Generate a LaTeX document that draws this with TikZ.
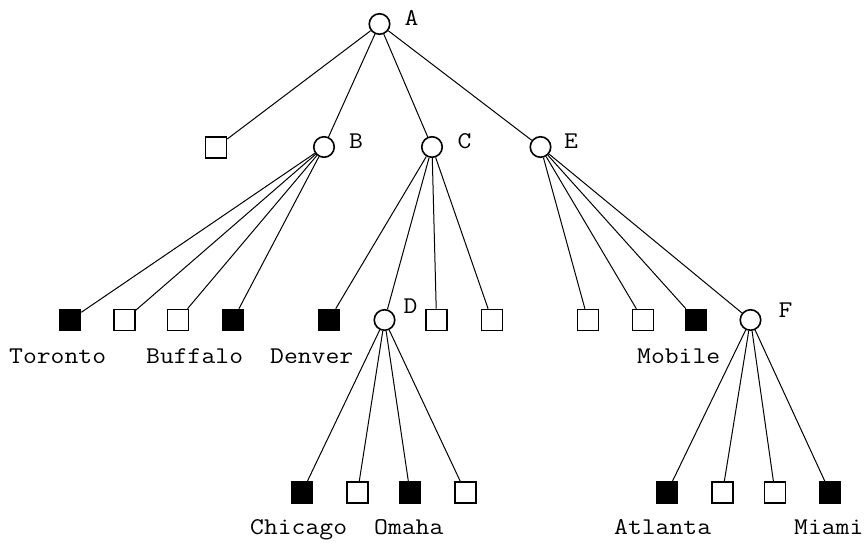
\documentclass[tikz,border=0pt]{standalone}
\usepackage{fontspec}
\setmonofont[FakeStretch=1.12]{Latin Modern Mono}
\begin{document}
\begin{tikzpicture}[x=1pt,y=-1pt,
  inner/.style={circle,draw,line width=1.6pt,minimum size=20.5pt,inner sep=0pt,fill=white},
  leaf/.style={rectangle,draw,line width=1.6pt,minimum size=21pt,inner sep=0pt,fill=white},
  hit/.style={leaf,fill=black},
  tag/.style={font=\ttfamily\fontsize{24}{28}\selectfont,inner sep=0pt,anchor=base},
  city/.style={font=\ttfamily\fontsize{24}{28}\selectfont,inner sep=0pt,anchor=base west},
  edge/.style={line width=1pt}]
\useasboundingbox (0,0) rectangle (867,542);

% internal nodes
\node[inner] (A) at (379.5,24) {};
\node[inner] (B) at (324,147) {};
\node[inner] (C) at (432,147) {};
\node[inner] (E) at (540.5,147) {};
\node[inner] (D) at (384.5,320) {};
\node[inner] (F) at (750.5,320) {};

% leaves, level 1
\node[leaf] (a1) at (216,147.5) {};

% leaves, level 2
\node[hit]  (b1) at (70,320) {};
\node[leaf] (b2) at (124.5,320) {};
\node[leaf] (b3) at (178,320) {};
\node[hit]  (b4) at (233,320) {};
\node[hit]  (c1) at (329,320) {};
\node[leaf] (c2) at (436.5,320) {};
\node[leaf] (c3) at (492,320) {};
\node[leaf] (e1) at (588,320) {};
\node[leaf] (e2) at (643,320) {};
\node[hit]  (e3) at (696,320) {};

% leaves, level 3
\node[hit]  (d1) at (302,492.5) {};
\node[leaf] (d2) at (357.5,492.5) {};
\node[hit]  (d3) at (410,492.5) {};
\node[leaf] (d4) at (465.5,492.5) {};
\node[hit]  (f1) at (667,492.5) {};
\node[leaf] (f2) at (722.5,492.5) {};
\node[leaf] (f3) at (775,492.5) {};
\node[hit]  (f4) at (830,492.5) {};

% branches
\foreach \p/\c in {A/a1,A/B,A/C,A/E,
                   B/b1,B/b2,B/b3,B/b4,
                   C/c1,C/D,C/c2,C/c3,
                   E/e1,E/e2,E/e3,E/F,
                   D/d1,D/d2,D/d3,D/d4,
                   F/f1,F/f2,F/f3,F/f4}
  \draw[edge] (\p) -- (\c);

% node letters
\node[tag] (lA) at (411.5,25) {A};
\node[tag] (lB) at (356,148) {B};
\node[tag] (lC) at (464.5,148) {C};
\node[tag] (lE) at (571,148) {E};
\node[tag] (lD) at (410.5,313) {D};
\node[tag] (lF) at (785.5,317) {F};

% city names
\node[city] (tToronto) at (9,363) {Toronto};
\node[city] (tBuffalo) at (146,363) {Buffalo};
\node[city] (tDenver)  at (270,363) {Denver};
\node[city] (tMobile)  at (637,363) {Mobile};
\node[city] (tChicago) at (250,534) {Chicago};
\node[city] (tOmaha)   at (374,534) {Omaha};
\node[city] (tAtlanta) at (614,534) {Atlanta};
\node[city] (tMiami)   at (794,534) {Miami};
\end{tikzpicture}
\end{document}
